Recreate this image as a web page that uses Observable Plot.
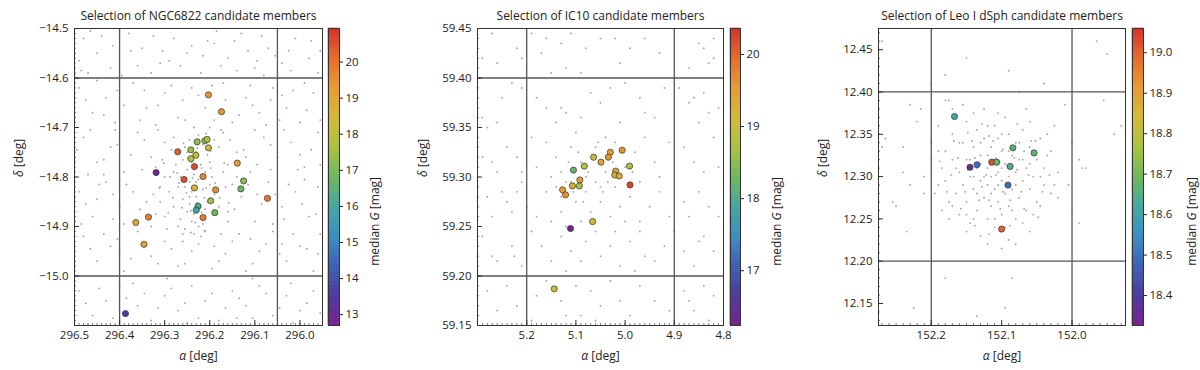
<!DOCTYPE html>
<html><head><meta charset="utf-8">
<script src="https://cdn.jsdelivr.net/npm/d3@7"></script>
<script src="https://cdn.jsdelivr.net/npm/@observablehq/plot@0.6"></script>
<style>
body{margin:0;background:#fff;}
#fig{position:relative;width:1200px;height:370px;overflow:hidden;}
#fig svg{position:absolute;top:0;overflow:visible;}
</style></head><body><div id="fig"></div>
<script>
// ---------- Panel 1: NGC6822 ----------
const ngcTitle = "Selection of NGC6822 candidate members";
const ngcXTicks = [296.5, 296.4, 296.3, 296.2, 296.1, 296.0];
const ngcYTicks = [-14.5, -14.6, -14.7, -14.8, -14.9, -15.0];
const ngcCTicks = [13, 14, 15, 16, 17, 18, 19, 20];
const ngcCand = [
  [296.203,-14.634,19.3],[296.174,-14.668,19.3],[296.228,-14.729,17.3],[296.211,-14.727,17.4],
  [296.206,-14.724,17.6],[296.203,-14.741,18.3],[296.271,-14.749,20.3],[296.242,-14.745,17.5],
  [296.231,-14.756,18.2],[296.242,-14.763,17.9],[296.234,-14.779,20.6],[296.319,-14.791,12.9],
  [296.215,-14.799,19.6],[296.257,-14.805,20.5],[296.234,-14.822,18.7],[296.187,-14.826,19.5],
  [296.139,-14.772,19.2],[296.125,-14.808,17.2],[296.131,-14.824,16.8],[296.072,-14.843,19.9],
  [296.198,-14.848,17.5],[296.226,-14.859,16.2],[296.230,-14.867,16.0],[296.189,-14.872,16.8],
  [296.215,-14.882,19.8],[296.336,-14.881,19.7],[296.364,-14.892,19.0],[296.346,-14.936,19.0],
  [296.387,-15.076,13.6]
];
const ngcField = [
  [296.48,-14.52],[296.45,-14.55],[296.42,-14.58],[296.47,-14.59],[296.38,-14.51],[296.35,-14.54],[296.31,-14.57],[296.28,-14.52],
  [296.25,-14.55],[296.22,-14.59],[296.19,-14.53],[296.16,-14.56],[296.13,-14.51],[296.10,-14.58],[296.07,-14.54],[296.04,-14.57],
  [296.01,-14.52],[295.98,-14.56],[295.96,-14.59],[296.33,-14.59],[296.29,-14.565],[296.205,-14.525],[296.115,-14.545],[296.44,-14.515],
  [296.36,-14.575],[296.24,-14.535],[296.08,-14.595],[296.02,-14.585],[296.49,-14.565],[296.14,-14.585],
  [296.49,-14.62],[296.46,-14.67],[296.43,-14.64],[296.41,-14.69],[296.37,-14.61],[296.34,-14.66],[296.30,-14.63],[296.27,-14.68],
  [296.24,-14.62],[296.21,-14.66],[296.17,-14.61],[296.15,-14.69],[296.12,-14.64],[296.09,-14.67],[296.06,-14.62],[296.03,-14.66],
  [296.00,-14.69],[295.97,-14.63],[296.39,-14.655],[296.26,-14.645],[296.19,-14.685],[296.11,-14.615],[296.45,-14.605],[296.32,-14.695],
  [296.04,-14.635],[295.99,-14.61],
  [296.48,-14.72],[296.45,-14.77],[296.42,-14.74],[296.39,-14.79],[296.36,-14.71],[296.33,-14.76],[296.30,-14.73],[296.17,-14.71],
  [296.14,-14.75],[296.11,-14.79],[296.08,-14.72],[296.05,-14.76],[296.02,-14.73],[295.99,-14.78],[295.96,-14.71],[296.47,-14.795],
  [296.35,-14.785],[296.16,-14.775],[296.10,-14.705],[296.00,-14.755],[296.28,-14.79],[296.41,-14.705],
  [296.49,-14.83],[296.46,-14.88],[296.43,-14.81],[296.40,-14.86],[296.37,-14.83],[296.34,-14.85],[296.31,-14.82],[296.16,-14.87],
  [296.13,-14.84],[296.10,-14.89],[296.07,-14.81],[296.04,-14.86],[296.01,-14.83],[295.98,-14.88],[295.96,-14.82],[296.45,-14.845],
  [296.39,-14.895],[296.06,-14.895],[296.15,-14.815],[295.99,-14.805],[296.32,-14.875],
  [296.48,-14.92],[296.45,-14.97],[296.42,-14.94],[296.39,-14.99],[296.36,-14.91],[296.33,-14.96],[296.30,-14.93],[296.27,-14.98],
  [296.24,-14.95],[296.21,-14.91],[296.18,-14.97],[296.15,-14.93],[296.12,-14.99],[296.09,-14.95],[296.06,-14.91],[296.03,-14.97],
  [296.00,-14.94],[295.97,-14.99],[296.26,-14.915],[296.19,-14.94],[296.11,-14.925],[296.40,-14.955],[296.04,-14.935],[295.96,-14.955],
  [296.49,-15.03],[296.46,-15.08],[296.43,-15.05],[296.40,-15.02],[296.36,-15.06],[296.33,-15.09],[296.30,-15.04],[296.27,-15.07],
  [296.24,-15.02],[296.21,-15.05],[296.18,-15.09],[296.15,-15.03],[296.12,-15.06],[296.09,-15.02],[296.06,-15.08],[296.03,-15.04],
  [296.00,-15.07],[295.97,-15.03],[296.25,-15.095],[296.14,-15.085],[296.37,-15.015],[296.02,-15.015],
  [296.465,-14.505],[296.415,-14.535],[296.375,-14.545],[296.325,-14.515],[296.265,-14.575],[296.215,-14.555],[296.175,-14.575],[296.145,-14.525],
  [296.085,-14.515],[296.055,-14.555],[296.025,-14.545],[295.975,-14.525],[295.955,-14.545],[296.485,-14.585],[296.395,-14.595],[296.305,-14.545],
  [296.185,-14.505],[296.095,-14.565],
  [296.475,-14.645],[296.435,-14.675],[296.405,-14.625],[296.355,-14.685],[296.315,-14.655],[296.285,-14.615],[296.255,-14.685],[296.225,-14.635],
  [296.165,-14.645],[296.135,-14.675],[296.105,-14.655],[296.075,-14.695],[296.045,-14.685],[296.015,-14.625],[295.985,-14.665],[295.955,-14.685],
  [296.345,-14.625],[296.195,-14.615],[296.065,-14.645],
  [296.495,-14.745],[296.465,-14.705],[296.435,-14.765],[296.405,-14.735],[296.375,-14.755],[296.345,-14.725],[296.315,-14.705],[296.305,-14.765],
  [296.155,-14.725],[296.125,-14.745],[296.095,-14.775],[296.065,-14.735],[296.035,-14.705],[296.005,-14.785],[295.975,-14.745],[295.955,-14.775],
  [296.435,-14.795],[296.065,-14.785],
  [296.475,-14.855],[296.445,-14.815],[296.415,-14.835],[296.385,-14.815],[296.355,-14.865],[296.325,-14.835],[296.145,-14.865],[296.115,-14.815],
  [296.085,-14.855],[296.055,-14.835],[296.025,-14.815],[295.995,-14.855],[295.965,-14.875],[296.485,-14.895],[296.415,-14.885],[296.095,-14.835],
  [296.035,-14.885],
  [296.465,-14.945],[296.435,-14.915],[296.405,-14.925],[296.375,-14.965],[296.345,-14.935],[296.315,-14.975],[296.285,-14.945],[296.255,-14.975],
  [296.225,-14.935],[296.195,-14.985],[296.165,-14.955],[296.135,-14.915],[296.105,-14.975],[296.075,-14.935],[296.045,-14.955],[296.015,-14.915],
  [295.985,-14.945],[295.955,-14.915],[296.295,-14.905],[296.175,-14.915],
  [296.475,-15.055],[296.445,-15.025],[296.415,-15.085],[296.385,-15.045],[296.345,-15.035],[296.315,-15.065],[296.285,-15.025],[296.255,-15.055],
  [296.225,-15.085],[296.195,-15.035],[296.165,-15.065],[296.135,-15.045],[296.105,-15.085],[296.075,-15.035],[296.045,-15.065],[296.015,-15.095],
  [295.985,-15.055],[295.955,-15.075],[296.295,-15.005],[296.105,-15.005],
  [296.235,-14.70],[296.225,-14.715],[296.245,-14.725],[296.215,-14.735],[296.255,-14.74],[296.23,-14.75],[296.205,-14.755],[296.26,-14.765],
  [296.24,-14.77],[296.22,-14.775],[296.25,-14.785],[296.21,-14.79],[296.235,-14.795],[296.265,-14.80],[296.225,-14.805],[296.245,-14.81],
  [296.20,-14.815],[296.255,-14.82],[296.215,-14.825],[296.24,-14.83],[296.23,-14.84],[296.26,-14.845],[296.205,-14.85],[296.245,-14.855],
  [296.22,-14.86],[296.25,-14.87],[296.235,-14.875],[296.21,-14.88],[296.265,-14.885],[296.24,-14.89],[296.225,-14.90],[296.255,-14.905],
  [296.235,-14.915],[296.27,-14.82],[296.195,-14.80],[296.28,-14.86],[296.19,-14.835],[296.275,-14.775],[296.20,-14.77],[296.23,-14.81],
  [296.25,-14.75],[296.21,-14.865],[296.245,-14.84],[296.27,-14.90],[296.215,-14.895],[296.19,-14.725],[296.285,-14.745],[296.18,-14.86],
  [296.29,-14.83],[296.17,-14.79],[296.30,-14.80],[296.165,-14.82],[296.20,-14.70],[296.18,-14.74],[296.28,-14.72],[296.30,-14.88],
  [296.16,-14.89],[296.31,-14.85],[296.22,-14.92],[296.26,-14.93],[296.14,-14.80],[296.12,-14.76],[296.32,-14.78],[296.33,-14.90],
  [296.228,-14.742],[296.248,-14.762],[296.218,-14.782],[296.238,-14.802],[296.208,-14.822],[296.252,-14.832],[296.228,-14.852],[296.242,-14.868],
  [296.218,-14.872],[296.232,-14.892],[296.262,-14.862],[296.212,-14.842],[296.268,-14.812],[296.198,-14.782],[296.272,-14.792],[296.188,-14.812],
  [296.282,-14.842],[296.178,-14.842],[296.258,-14.732],[296.208,-14.712],[296.292,-14.872],[296.168,-14.772],[296.302,-14.772],[296.158,-14.852],
  [296.312,-14.822],[296.242,-14.912],[296.212,-14.908],[296.198,-14.748],[296.288,-14.80],[296.175,-14.705]
];

// ---------- Panel 2: IC10 ----------
const icTitle = "Selection of IC10 candidate members";
const icXTicks = [5.2, 5.1, 5.0, 4.9, 4.8];
const icYTicks = [59.15, 59.20, 59.25, 59.30, 59.35, 59.40, 59.45];
const icCTicks = [17, 18, 19, 20];
const icCand = [
  [5.006,59.327,19.6],[5.030,59.325,19.4],[5.034,59.320,19.6],[5.064,59.320,18.9],[5.049,59.315,19.4],
  [5.083,59.311,18.8],[5.105,59.307,18.2],[4.991,59.311,18.8],[5.019,59.306,19.4],[5.021,59.302,19.2],
  [5.012,59.301,19.3],[5.092,59.297,19.4],[5.093,59.291,18.7],[5.107,59.291,19.3],[4.990,59.292,20.2],
  [5.127,59.287,19.5],[5.121,59.282,19.6],[5.066,59.255,19.1],[5.111,59.248,16.3],[5.144,59.187,19.0]
];
const icField = [
  [5.27,59.445],[5.29,59.42],[5.26,59.415],[5.22,59.43],[5.19,59.445],[5.16,59.44],[5.13,59.435],[5.11,59.445],[5.08,59.43],[5.05,59.44],
  [5.17,59.425],[5.21,59.42],[5.02,59.44],[4.99,59.43],[4.96,59.44],[5.01,59.415],[4.93,59.425],[4.85,59.435],[4.84,59.43],[4.82,59.44],
  [4.82,59.42],[4.83,59.415],[4.87,59.41],[5.12,59.41],[5.09,59.405],[5.15,59.405],
  [5.29,59.36],[5.28,59.35],[5.26,59.355],[5.25,59.38],[5.23,59.395],[5.21,59.39],[5.18,59.38],[5.16,59.37],[5.13,59.37],[5.12,59.365],
  [5.07,59.385],[5.05,59.375],[5.03,59.39],[5.00,59.395],[4.97,59.38],[4.94,59.36],[4.92,59.39],[4.89,59.39],[4.87,59.375],[4.86,59.38],
  [4.84,59.385],[4.83,59.365],[4.81,59.37],[4.85,59.355],[5.01,59.355],[5.09,59.36],[5.14,59.355],[4.96,59.365],
  [5.29,59.32],[5.27,59.315],[5.26,59.305],[5.24,59.33],[5.22,59.32],[5.21,59.305],[5.19,59.34],[5.16,59.335],[5.14,59.32],[5.11,59.33],
  [5.13,59.305],[5.09,59.315],[5.12,59.295],[5.08,59.30],[5.06,59.33],[5.04,59.34],[5.02,59.335],[4.98,59.325],[4.96,59.34],[4.94,59.315],
  [4.93,59.30],[4.91,59.335],[4.88,59.33],[4.86,59.315],[4.84,59.305],[4.82,59.34],[4.81,59.31],[5.04,59.305],[5.06,59.295],[5.00,59.31],
  [5.15,59.30],[5.18,59.31],[5.10,59.345],
  [5.28,59.28],[5.27,59.26],[5.25,59.285],[5.24,59.275],[5.23,59.265],[5.22,59.285],[5.20,59.27],[5.18,59.26],[5.16,59.285],[5.14,59.29],
  [5.13,59.265],[5.12,59.25],[5.10,59.275],[5.08,59.285],[5.07,59.265],[5.05,59.275],[5.03,59.26],[5.01,59.27],[4.99,59.28],[4.97,59.255],
  [4.95,59.27],[4.93,59.285],[4.91,59.26],[4.88,59.275],[4.87,59.26],[4.85,59.285],[4.83,59.27],[4.81,59.26],[5.05,59.29],[5.02,59.29],
  [5.00,59.255],[4.97,59.295],[5.15,59.255],[5.09,59.255],[5.11,59.295],[5.13,59.28],[5.21,59.295],
  [5.29,59.24],[5.27,59.22],[5.26,59.215],[5.23,59.23],[5.225,59.22],[5.21,59.21],[5.19,59.245],[5.17,59.23],[5.15,59.215],[5.13,59.24],
  [5.11,59.225],[5.09,59.215],[5.08,59.235],[5.06,59.245],[5.05,59.22],[5.03,59.23],[5.01,59.21],[4.99,59.235],[4.97,59.245],[4.96,59.22],
  [4.94,59.215],[4.92,59.23],[4.90,59.245],[4.88,59.225],[4.86,59.21],[4.84,59.24],[4.82,59.225],[4.85,59.235],[5.12,59.205],[5.02,59.245],
  [4.98,59.205],
  [5.28,59.185],[5.26,59.165],[5.24,59.19],[5.22,59.17],[5.19,59.155],[5.18,59.18],[5.16,59.195],[5.13,59.175],[5.10,59.19],[5.09,59.16],
  [5.07,59.185],[5.05,59.17],[5.03,59.195],[5.01,59.175],[4.99,59.16],[4.97,59.19],[4.94,59.175],[4.91,59.165],[4.88,59.185],[4.87,59.175],
  [4.86,59.165],[4.84,59.19],[4.82,59.18],[4.83,59.155],[5.12,59.16],[5.06,59.155],
  [5.115,59.315],[5.095,59.325],[5.075,59.305],[5.045,59.285],[5.025,59.315],[5.105,59.285],[5.085,59.275],[5.035,59.295],[4.985,59.305],[5.055,59.335]
];

// ---------- Panel 3: Leo I dSph ----------
const leoTitle = "Selection of Leo I dSph candidate members";
const leoXTicks = [152.2, 152.1, 152.0];
const leoYTicks = [12.15, 12.20, 12.25, 12.30, 12.35, 12.40, 12.45];
const leoCTicks = [18.4, 18.5, 18.6, 18.7, 18.8, 18.9, 19.0];
const leoCand = [
  [152.167,12.371,18.62],[152.084,12.334,18.66],[152.054,12.328,18.67],[152.114,12.317,19.02],[152.107,12.317,18.68],
  [152.135,12.314,18.50],[152.145,12.311,18.36],[152.088,12.312,18.66],[152.091,12.290,18.50],[152.100,12.238,19.00]
];
const leoField = [
  [152.27,12.46],[152.20,12.41],[152.18,12.42],[152.15,12.44],[152.09,12.425],[152.075,12.40],[152.04,12.41],[151.965,12.46],
  [151.95,12.445],[151.955,12.39],[151.94,12.35],[151.93,12.36],[152.27,12.335],[152.265,12.345],[152.24,12.305],[152.255,12.27],
  [152.25,12.265],[152.23,12.29],[152.235,12.235],[152.24,12.335],[152.23,12.385],[152.22,12.365],[152.21,12.28],[152.215,12.38],
  [152.18,12.18],[152.225,12.145],[152.135,12.135],[152.095,12.145],[152.085,12.18],[151.99,12.245],[151.98,12.31],[151.985,12.31],
  [152.00,12.26],[152.00,12.34],[152.005,12.29],[152.01,12.385],[151.99,12.32],[152.18,12.39],[152.175,12.39],
  [152.19,12.33],[152.185,12.31],[152.18,12.295],[152.175,12.27],[152.17,12.35],[152.17,12.32],[152.165,12.28],[152.16,12.305],
  [152.16,12.255],[152.155,12.34],[152.155,12.29],[152.15,12.365],[152.15,12.32],[152.15,12.27],[152.145,12.30],[152.145,12.245],
  [152.14,12.335],[152.14,12.285],[152.135,12.355],[152.135,12.31],[152.135,12.26],[152.13,12.325],[152.13,12.295],[152.13,12.23],
  [152.125,12.345],[152.125,12.275],[152.12,12.31],[152.12,12.29],[152.12,12.25],[152.115,12.335],[152.115,12.30],[152.115,12.265],
  [152.11,12.36],[152.11,12.32],[152.11,12.285],[152.11,12.24],[152.105,12.345],[152.105,12.305],[152.105,12.27],[152.10,12.33],
  [152.10,12.295],[152.10,12.255],[152.095,12.315],[152.095,12.28],[152.09,12.35],[152.09,12.30],[152.09,12.265],[152.085,12.325],
  [152.085,12.285],[152.08,12.34],[152.08,12.305],[152.08,12.25],[152.075,12.32],[152.075,12.275],[152.07,12.355],[152.07,12.295],
  [152.065,12.31],[152.065,12.26],[152.06,12.335],[152.06,12.285],[152.055,12.30],[152.05,12.32],[152.05,12.27],[152.045,12.345],
  [152.04,12.29],[152.04,12.31],[152.035,12.325],[152.03,12.28],[152.025,12.36],[152.02,12.305],[152.06,12.365],[152.14,12.375],
  [152.17,12.38],[152.19,12.36],[152.20,12.32],[152.195,12.28],[152.12,12.22],[152.09,12.225],[152.06,12.235],[152.15,12.235],
  [152.105,12.375],[152.125,12.38],[152.095,12.37],[152.13,12.315],[152.125,12.30],[152.115,12.315],[152.105,12.29],[152.10,12.31],
  [152.12,12.325],[152.135,12.28],[152.145,12.32],[152.16,12.34],[152.075,12.34],[152.085,12.26],[152.07,12.245],[152.055,12.255],
  [152.045,12.265],[152.03,12.33],[152.165,12.31],[152.18,12.33],[152.175,12.25],[152.185,12.26],[152.14,12.25],[152.11,12.25],
  [152.08,12.22],[152.20,12.34],[152.21,12.30],[152.035,12.35],[152.10,12.215],[152.065,12.38],[152.155,12.385],[152.095,12.24],
  [152.115,12.28],[152.13,12.34],[152.14,12.30],[152.09,12.33],[152.06,12.315],[152.045,12.30],[152.15,12.255],[152.17,12.265],
  [152.12,12.36],[152.10,12.35],[152.08,12.29],[152.07,12.32],[152.025,12.29],[152.02,12.275],[152.19,12.29],[152.20,12.31],
  [152.188,12.318],[152.172,12.302],[152.162,12.322],[152.152,12.282],[152.142,12.342],[152.132,12.272],[152.122,12.302],[152.112,12.342],
  [152.102,12.262],[152.092,12.312],[152.082,12.322],[152.072,12.282],[152.062,12.302],[152.052,12.342],[152.042,12.282],[152.032,12.302],
  [152.158,12.262],[152.148,12.352],[152.138,12.242],[152.128,12.362],[152.118,12.232],[152.108,12.322],[152.098,12.282],[152.088,12.242],
  [152.078,12.362],[152.068,12.262],[152.058,12.342],[152.048,12.252],[152.168,12.342],[152.178,12.282],[152.118,12.272],[152.108,12.302],
  [152.128,12.288],[152.098,12.332],[152.088,12.272],[152.148,12.308],[152.138,12.322],[152.118,12.348],[152.078,12.308],[152.068,12.330]
];

// ---------- colour map (purple -> blue -> teal -> green -> yellow -> orange -> red) ----------
const cmapStops = ["#7a1f8e","#4b3a9c","#3b5fb4","#3b8dc2","#43a5a0","#6db85a","#a8c240","#d3b937","#e59a30","#e66b2b","#d42f2a"];
const cmap = d3.piecewise(d3.interpolateRgb, cmapStops);

const FONT = "'Open Sans', 'DejaVu Sans', sans-serif";
const TOP = 28, BOTTOM = 325, H = 370;
const fig = document.getElementById("fig");

function place(svg, left) { svg.style.left = left + "px"; fig.appendChild(svg); }

function styleText(svg) {
  svg.querySelectorAll("text").forEach(t => {
    const s = t.textContent;
    if (s === "median G [mag]") t.innerHTML = 'median <tspan font-style="italic">G</tspan> [mag]';
    else if (s === "α [deg]") t.innerHTML = '<tspan font-style="italic">α</tspan> [deg]';
    else if (s === "δ [deg]") t.innerHTML = '<tspan font-style="italic">δ</tspan> [deg]';
  });
}

function panel(c) {
  const innerH = BOTTOM - TOP, innerW = c.frameR - c.frameL;
  const color = {type: "linear", domain: c.cDomain, interpolate: cmap};
  const inDom = (v, dom) => v >= Math.min(...dom) - 1e-9 && v <= Math.max(...dom) + 1e-9;
  const xMinor = d3.range(Math.round(Math.min(...c.xDomain) * 100), Math.round(Math.max(...c.xDomain) * 100) + 1).map(i => i / 100).filter(v => inDom(v, c.xDomain));
  const yMinor = d3.range(Math.round(Math.min(...c.yDomain) * 100), Math.round(Math.max(...c.yDomain) * 100) + 1).map(i => i / 100).filter(v => inDom(v, c.yDomain));
  const main = Plot.plot({
    width: c.frameR - c.left + 2, height: H,
    marginLeft: c.frameL - c.left, marginRight: 2, marginTop: TOP, marginBottom: H - BOTTOM,
    style: {fontFamily: FONT, fontSize: "11.5px", color: "#222", background: "transparent", overflow: "visible"},
    x: {domain: c.xDomain}, y: {domain: c.yDomain}, color,
    marks: [
      Plot.dot(c.field, {x: d => d[0], y: d => d[1], r: 0.95, fill: "#a6a6a6"}),
      Plot.ruleX(c.vLines, {stroke: "#555", strokeWidth: 1.3}),
      Plot.ruleY(c.hLines, {stroke: "#555", strokeWidth: 1.3}),
      Plot.dot(c.cand, {x: d => d[0], y: d => d[1], fill: d => d[2], r: 3.1, stroke: "#333", strokeWidth: 0.7}),
      Plot.tickX(xMinor, {x: d => d, insetTop: innerH - 2, stroke: "#444", strokeWidth: 0.7}),
      Plot.tickX(c.xTicks, {x: d => d, insetTop: innerH - 5, stroke: "#333"}),
      Plot.tickY(yMinor, {y: d => d, insetRight: innerW - 2, stroke: "#444", strokeWidth: 0.7}),
      Plot.tickY(c.yTicks, {y: d => d, insetRight: innerW - 5, stroke: "#333"}),
      Plot.frame({stroke: "#333", strokeWidth: 1}),
      Plot.axisX(c.xTicks, {tickSize: 0, tickPadding: 5, tickFormat: c.xFmt, label: null}),
      Plot.axisY(c.yTicks, {tickSize: 0, tickPadding: 6, tickFormat: c.yFmt, label: null}),
      Plot.text([c.title], {text: d => d, frameAnchor: "top", dy: -12, fontSize: 12, lineAnchor: "middle"}),
      Plot.text(["α [deg]"], {text: d => d, frameAnchor: "bottom", dy: 31, fontSize: 12, lineAnchor: "middle"}),
      Plot.text(["δ [deg]"], {text: d => d, frameAnchor: "left", dx: c.ylabX - c.frameL, rotate: -90, fontSize: 12, lineAnchor: "middle"})
    ]
  });
  styleText(main);
  place(main, c.left);

  const cbLeft = c.frameR + 2;
  const cbW = c.right - cbLeft;
  const [lo, hi] = c.cDomain, N = 160;
  const slices = d3.range(N).map(i => [lo + i * (hi - lo) / N, lo + (i + 1) * (hi - lo) / N]);
  const cb = Plot.plot({
    width: cbW, height: H,
    marginLeft: c.cbL - cbLeft, marginRight: cbW - (c.cbR - cbLeft), marginTop: TOP, marginBottom: H - BOTTOM,
    style: {fontFamily: FONT, fontSize: "11.5px", color: "#222", background: "transparent", overflow: "visible"},
    x: {domain: [0, 1], axis: null}, y: {domain: c.cDomain}, color,
    marks: [
      Plot.rect(slices, {x1: 0, x2: 1, y1: d => d[0], y2: d => d[1], fill: d => (d[0] + d[1]) / 2, stroke: d => (d[0] + d[1]) / 2, strokeWidth: 0.6}),
      Plot.frame({stroke: "#333"}),
      Plot.axisY(c.cTicks, {anchor: "right", tickSize: 3, tickPadding: 3, tickFormat: c.cFmt, label: null}),
      Plot.text(["median G [mag]"], {text: d => d, frameAnchor: "right", dx: c.cblabX - c.cbR, rotate: -90, fontSize: 12, lineAnchor: "middle"})
    ]
  });
  styleText(cb);
  place(cb, cbLeft);
}

panel({left: 0, right: 400, frameL: 74, frameR: 322, cbL: 328, cbR: 339,
  xDomain: [296.5, 295.95], yDomain: [-15.1, -14.5], xTicks: ngcXTicks, yTicks: ngcYTicks,
  xFmt: ".1f", yFmt: ".1f", vLines: [296.4, 296.05], hLines: [-14.6, -15.0],
  field: ngcField, cand: ngcCand, cDomain: [12.7, 20.93], cTicks: ngcCTicks, cFmt: "d",
  title: ngcTitle, ylabX: 19, cblabX: 375});

panel({left: 400, right: 800, frameL: 477, frameR: 723, cbL: 730, cbR: 740,
  xDomain: [5.3, 4.8], yDomain: [59.15, 59.45], xTicks: icXTicks, yTicks: icYTicks,
  xFmt: ".1f", yFmt: ".2f", vLines: [5.2, 4.9], hLines: [59.40, 59.20],
  field: icField, cand: icCand, cDomain: [16.24, 20.36], cTicks: icCTicks, cFmt: "d",
  title: icTitle, ylabX: 423, cblabX: 777});

panel({left: 800, right: 1200, frameL: 878, frameR: 1125, cbL: 1132, cbR: 1143,
  xDomain: [152.275, 151.924], yDomain: [12.124, 12.475], xTicks: leoXTicks, yTicks: leoYTicks,
  xFmt: ".1f", yFmt: ".2f", vLines: [152.2, 152.0], hLines: [12.40, 12.20],
  field: leoField, cand: leoCand, cDomain: [18.326, 19.06], cTicks: leoCTicks, cFmt: ".1f",
  title: leoTitle, ylabX: 823, cblabX: 1192});
</script></body></html>
